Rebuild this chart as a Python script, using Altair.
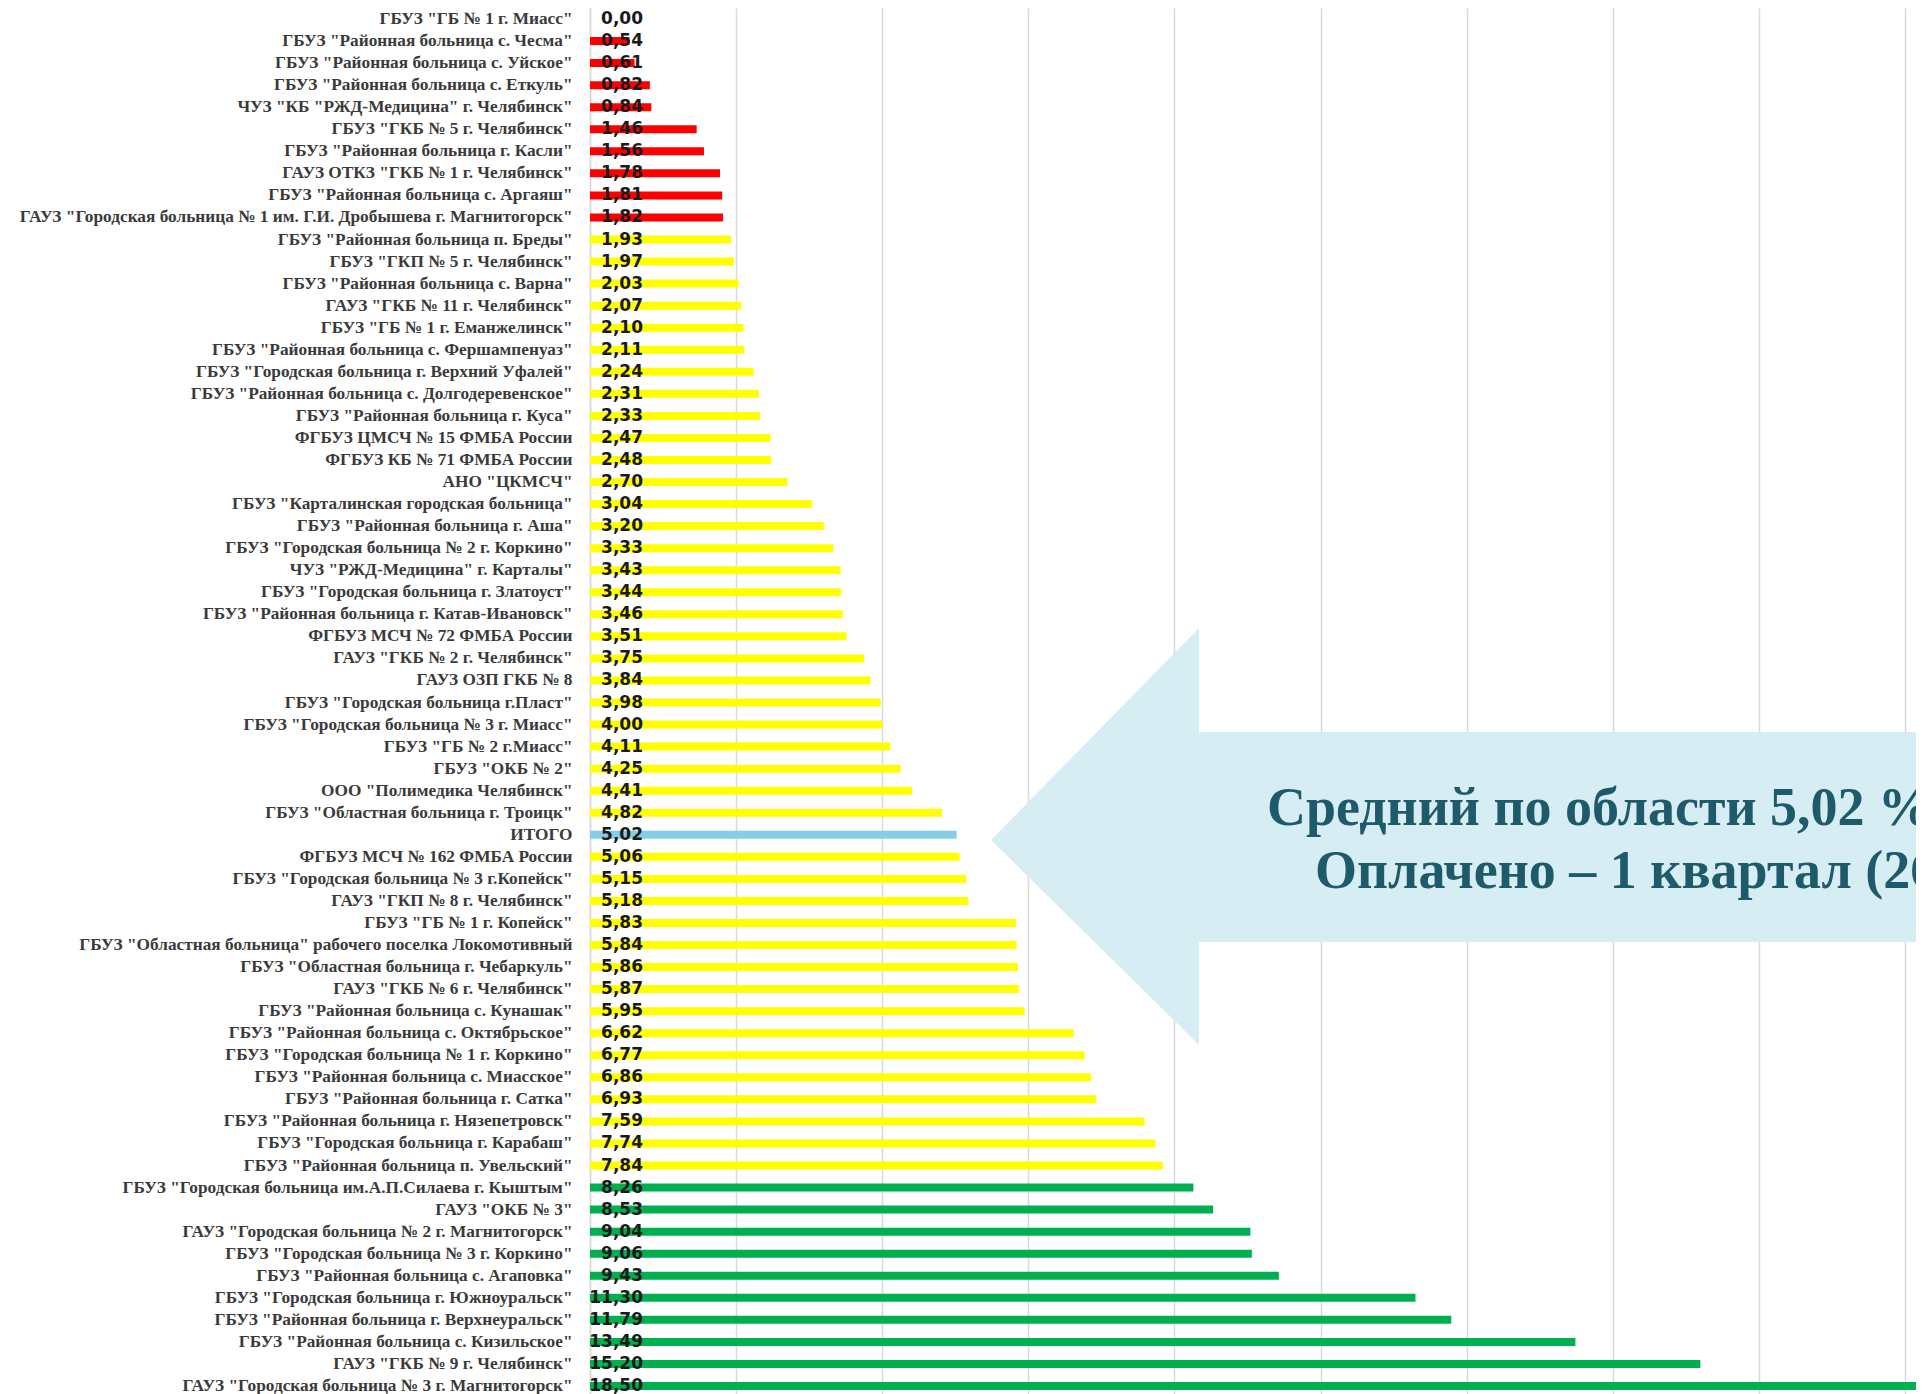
import altair as alt
import pandas as pd

names = [
    'ГБУЗ "ГБ № 1 г. Миасс"',
    'ГБУЗ "Районная больница с. Чесма"',
    'ГБУЗ "Районная больница с. Уйское"',
    'ГБУЗ "Районная больница с. Еткуль"',
    'ЧУЗ "КБ "РЖД-Медицина" г. Челябинск"',
    'ГБУЗ "ГКБ № 5 г. Челябинск"',
    'ГБУЗ "Районная больница г. Касли"',
    'ГАУЗ ОТКЗ "ГКБ № 1 г. Челябинск"',
    'ГБУЗ "Районная больница с. Аргаяш"',
    'ГАУЗ "Городская больница № 1 им. Г.И. Дробышева г. Магнитогорск"',
    'ГБУЗ "Районная больница п. Бреды"',
    'ГБУЗ "ГКП № 5 г. Челябинск"',
    'ГБУЗ "Районная больница с. Варна"',
    'ГАУЗ "ГКБ № 11 г. Челябинск"',
    'ГБУЗ "ГБ № 1 г. Еманжелинск"',
    'ГБУЗ "Районная больница с. Фершампенуаз"',
    'ГБУЗ "Городская больница г. Верхний Уфалей"',
    'ГБУЗ "Районная больница с. Долгодеревенское"',
    'ГБУЗ "Районная больница г. Куса"',
    'ФГБУЗ ЦМСЧ № 15 ФМБА России',
    'ФГБУЗ КБ № 71 ФМБА России',
    'АНО "ЦКМСЧ"',
    'ГБУЗ "Карталинская городская больница"',
    'ГБУЗ "Районная больница г. Аша"',
    'ГБУЗ "Городская больница № 2 г. Коркино"',
    'ЧУЗ "РЖД-Медицина" г. Карталы"',
    'ГБУЗ "Городская больница г. Златоуст"',
    'ГБУЗ "Районная больница г. Катав-Ивановск"',
    'ФГБУЗ МСЧ № 72 ФМБА России',
    'ГАУЗ "ГКБ № 2 г. Челябинск"',
    'ГАУЗ ОЗП ГКБ № 8',
    'ГБУЗ "Городская больница г.Пласт"',
    'ГБУЗ "Городская больница № 3 г. Миасс"',
    'ГБУЗ "ГБ № 2 г.Миасс"',
    'ГБУЗ "ОКБ № 2"',
    'ООО "Полимедика Челябинск"',
    'ГБУЗ "Областная больница г. Троицк"',
    'ИТОГО',
    'ФГБУЗ МСЧ № 162 ФМБА России',
    'ГБУЗ "Городская больница № 3 г.Копейск"',
    'ГАУЗ "ГКП № 8 г. Челябинск"',
    'ГБУЗ "ГБ № 1 г. Копейск"',
    'ГБУЗ "Областная больница" рабочего поселка Локомотивный',
    'ГБУЗ "Областная больница г. Чебаркуль"',
    'ГАУЗ "ГКБ № 6 г. Челябинск"',
    'ГБУЗ "Районная больница с. Кунашак"',
    'ГБУЗ "Районная больница с. Октябрьское"',
    'ГБУЗ "Городская больница № 1 г. Коркино"',
    'ГБУЗ "Районная больница с. Миасское"',
    'ГБУЗ "Районная больница г. Сатка"',
    'ГБУЗ "Районная больница г. Нязепетровск"',
    'ГБУЗ "Городская больница г. Карабаш"',
    'ГБУЗ "Районная больница п. Увельский"',
    'ГБУЗ "Городская больница им.А.П.Силаева г. Кыштым"',
    'ГАУЗ "ОКБ № 3"',
    'ГАУЗ "Городская больница № 2 г. Магнитогорск"',
    'ГБУЗ "Городская больница № 3 г. Коркино"',
    'ГБУЗ "Районная больница с. Агаповка"',
    'ГБУЗ "Городская больница г. Южноуральск"',
    'ГБУЗ "Районная больница г. Верхнеуральск"',
    'ГБУЗ "Районная больница с. Кизильское"',
    'ГАУЗ "ГКБ № 9 г. Челябинск"',
    'ГАУЗ "Городская больница № 3 г. Магнитогорск"',
]

values = [
    0.00, 0.54, 0.61, 0.82, 0.84, 1.46, 1.56, 1.78, 1.81, 1.82,
    1.93, 1.97, 2.03, 2.07, 2.10, 2.11, 2.24, 2.31, 2.33, 2.47,
    2.48, 2.70, 3.04, 3.20, 3.33, 3.43, 3.44, 3.46, 3.51, 3.75,
    3.84, 3.98, 4.00, 4.11, 4.25, 4.41, 4.82, 5.02, 5.06, 5.15,
    5.18, 5.83, 5.84, 5.86, 5.87, 5.95, 6.62, 6.77, 6.86, 6.93,
    7.59, 7.74, 7.84, 8.26, 8.53, 9.04, 9.06, 9.43, 11.30, 11.79,
    13.49, 15.20, 18.50,
]

callout_line1 = "Средний по области 5,02 %"
callout_line2 = "Оплачено – 1 квартал (26"

# arrow decoration outline (pixels in plot area)
arrow_x = [401, 609, 609.01, 1360]
arrow_top = [832, 620, 724, 724]
arrow_bottom = [832, 1037, 934, 934]

W = 1326
H = 1389
XMAX = W / 73.05


def bar_color(n, v):
    if n == "ИТОГО":
        return "#86CEE3"
    if v < 1.9:
        return "#FF0000"
    if v < 8:
        return "#FFFF00"
    return "#00B050"


df = pd.DataFrame({"name": names, "value": values})
df["label"] = [f"{v:.2f}".replace(".", ",") for v in values]
df["color"] = [bar_color(n, v) for n, v in zip(names, values)]

band = alt.Scale(paddingInner=0, paddingOuter=0)

bars = alt.Chart(df).mark_bar(size=8, clip=True).encode(
    y=alt.Y(
        "name:N", sort=names, scale=band,
        axis=alt.Axis(
            title="", labelFont="Liberation Serif", labelFontWeight="bold",
            labelFontSize=17.3, labelColor="#3a3a3a", labelLimit=1000,
            labelPadding=18, ticks=False, domainColor="#D9D9D9",
            domainWidth=1.5, grid=False,
        ),
    ),
    x=alt.X(
        "value:Q", scale=alt.Scale(domain=[0, XMAX], nice=False),
        axis=alt.Axis(
            title="", labels=False, ticks=False, domain=False, grid=True,
            values=list(range(0, 19, 2)), gridColor="#D9D9D9", gridWidth=1.5,
        ),
    ),
    color=alt.Color("color:N", scale=None),
)

vals = alt.Chart(df).mark_text(
    align="right", baseline="middle", font="DejaVu Sans", fontWeight="bold",
    fontSize=17, color="#1a1a1a",
).encode(
    y=alt.Y("name:N", sort=names, scale=band, axis=None),
    x=alt.value(53),
    text="label:N",
)

arrow_df = pd.DataFrame({
    "ax": arrow_x, "at": arrow_top, "ab": arrow_bottom,
})
arrow = alt.Chart(arrow_df).mark_area(
    color="#D7EDF4", fill="#D7EDF4", opacity=1, orient="vertical"
).encode(
    x=alt.X("ax:Q", scale=alt.Scale(domain=[0, W], nice=False, zero=False), axis=None),
    y=alt.Y("at:Q", scale=alt.Scale(domain=[0, H], nice=False, zero=False, reverse=True), axis=None),
    y2=alt.Y2("ab:Q"),
)

t1 = alt.Chart(pd.DataFrame({"t": [callout_line1]})).mark_text(
    align="left", baseline="alphabetic", font="Liberation Serif",
    fontWeight="bold", fontSize=54, color="#1F5A6A",
).encode(x=alt.value(677), y=alt.value(817), text="t:N")

t2 = alt.Chart(pd.DataFrame({"t": [callout_line2]})).mark_text(
    align="left", baseline="alphabetic", font="Liberation Serif",
    fontWeight="bold", fontSize=54, color="#1F5A6A",
).encode(x=alt.value(725), y=alt.value(880), text="t:N")

chart = alt.layer(bars, vals, arrow, t1, t2).resolve_scale(
    x="independent", y="independent"
).properties(
    width=W, height=H,
    autosize=alt.AutoSizeParams(type="none"),
    padding={"left": 582, "top": 0, "right": 0, "bottom": 0},
).configure_view(stroke="transparent")

chart.save("out.html", embed_options={"renderer": "svg", "actions": False})
